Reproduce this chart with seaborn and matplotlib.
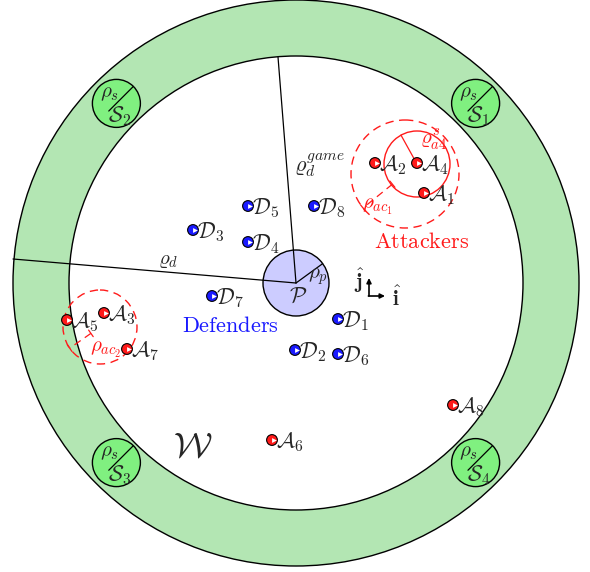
import numpy as np
import pandas as pd
import matplotlib
matplotlib.use("Agg")
import matplotlib.pyplot as plt
import matplotlib.transforms as mtransforms
from matplotlib.patches import Circle
import seaborn as sns

# ---------------------------------------------------------------------------
# Data (pixel-like coordinates of the arena, y grows downwards)
center = (296, 283)
outer_r = 283
inner_r = 227
p_r = 33
safe_r = 24
safe_ring_r = 254
safe_angles = [45, 135, 225, 315]
safe_labels = ["1", "2", "3", "4"]

attacker_ids = ["1", "2", "3", "4", "5", "6", "7", "8"]
attacker_x = [424, 375, 104, 417, 67, 272, 127, 453]
attacker_y = [193, 163, 313, 163, 320, 440, 349, 405]

defender_ids = ["1", "2", "3", "4", "5", "6", "7", "8"]
defender_x = [338, 295, 193, 248, 248, 338, 212, 314]
defender_y = [319, 350, 230, 242, 206, 354, 296, 206]

cluster_centers = [(405, 174), (100, 327)]
cluster_radii = [54, 37]
cluster_angles = [219, 215]

sense_center = (417, 164)
sense_r = 33

RED = "#ff1a1a"
BLUE = "#1a1aff"

# ---------------------------------------------------------------------------
sns.set_style("white")
plt.rcParams["mathtext.fontset"] = "cm"
plt.rcParams["font.family"] = ["DejaVu Serif"]

fig = plt.figure(figsize=(5.9, 5.72), dpi=100)
ax = fig.add_axes([0, 0, 1, 1])
ax.set_xlim(0, 590)
ax.set_ylim(572, 0)
ax.set_aspect("equal")
ax.axis("off")

cx, cy = center
# arena ring
ax.add_patch(Circle(center, outer_r, facecolor="#b3e6b3", edgecolor="black", lw=1.0, zorder=1))
ax.add_patch(Circle(center, inner_r, facecolor="white", edgecolor="black", lw=1.0, zorder=2))

# safe zones
for ang, lab in zip(safe_angles, safe_labels):
    a = np.deg2rad(ang)
    sx = cx + safe_ring_r * np.cos(a)
    sy = cy - safe_ring_r * np.sin(a)
    ax.add_patch(Circle((sx, sy), safe_r, facecolor="#80f080", edgecolor="black", lw=1.0, zorder=3))
    b = np.deg2rad(45)
    ax.plot([sx - 0.45 * safe_r * np.cos(b), sx + safe_r * np.cos(b)],
            [sy + 0.45 * safe_r * np.sin(b), sy - safe_r * np.sin(b)],
            color="black", lw=0.9, zorder=4)
    ax.text(sx - 7, sy - 10, r"$\rho_s$", fontsize=15, ha="center", va="center", zorder=5)
    ax.text(sx + 3, sy + 13, r"$\mathcal{S}_%s$" % lab, fontsize=16, ha="center", va="center", zorder=5)

# protected area
ax.add_patch(Circle(center, p_r, facecolor="#ccccff", edgecolor="black", lw=1.0, zorder=3))
ax.plot([cx, 13], [cy, 259], color="black", lw=0.9, zorder=4)
ax.plot([cx, 278], [cy, 57], color="black", lw=0.9, zorder=4)
ax.plot([cx, cx + p_r * np.cos(np.deg2rad(36))], [cy, cy - p_r * np.sin(np.deg2rad(36))],
        color="black", lw=0.9, zorder=4)
ax.text(168, 261, r"$\varrho_d$", fontsize=15, ha="center", va="center")
ax.text(319, 165, r"$\varrho_d^{game}$", fontsize=16, ha="center", va="center")
ax.text(318, 277, r"$\rho_p$", fontsize=15, ha="center", va="center", zorder=5)
ax.text(298, 297, r"$\mathcal{P}$", fontsize=16, ha="center", va="center", zorder=5)
ax.text(193, 447, r"$\mathcal{W}$", fontsize=26, ha="center", va="center")

# clusters
for (ccx, ccy), r, ang in zip(cluster_centers, cluster_radii, cluster_angles):
    ax.add_patch(Circle((ccx, ccy), r, facecolor="none", edgecolor=RED, lw=1.0,
                        ls=(0, (6, 4)), zorder=4))
    a = np.deg2rad(ang)
    ux, uy = np.cos(a), -np.sin(a)
    px, py = -uy, ux
    s0, s1 = 0.3 * r, r
    ax.plot([ccx + s0 * ux, ccx + s1 * ux], [ccy + s0 * uy, ccy + s1 * uy],
            color=RED, lw=0.9, ls=(0, (6, 4)), zorder=4)
    for s in (s0, s1):
        ax.plot([ccx + s * ux - 4 * px, ccx + s * ux + 4 * px],
                [ccy + s * uy - 4 * py, ccy + s * uy + 4 * py], color=RED, lw=0.9, zorder=4)
ax.text(378, 207, r"$\rho_{ac_1}$", fontsize=15, color=RED, ha="center", va="center")
ax.text(106, 350, r"$\rho_{ac_2}$", fontsize=15, color=RED, ha="center", va="center")

# sensing radius of A4
ax.add_patch(Circle(sense_center, sense_r, facecolor="none", edgecolor=RED, lw=1.0, zorder=4))
a = np.deg2rad(119)
ax.plot([sense_center[0], sense_center[0] + sense_r * np.cos(a)],
        [sense_center[1], sense_center[1] - sense_r * np.sin(a)], color=RED, lw=0.9, zorder=4)
ax.text(434, 140, r"$\varrho_{a4}^s$", fontsize=15, color=RED, ha="center", va="center")

ax.text(422, 242, r"$\mathrm{Attackers}$", fontsize=16, color=RED, ha="center", va="center")
ax.text(230, 326, r"$\mathrm{Defenders}$", fontsize=16, color=BLUE, ha="center", va="center")

# agents
agents = pd.DataFrame({
    "x": attacker_x + defender_x,
    "y": attacker_y + defender_y,
    "team": ["A"] * len(attacker_x) + ["D"] * len(defender_x),
    "id": attacker_ids + defender_ids,
})
sns.scatterplot(data=agents, x="x", y="y", hue="team", palette={"A": RED, "D": BLUE},
                s=60, edgecolor="black", linewidth=0.8, legend=False, ax=ax, zorder=6)
tri = mtransforms.offset_copy(ax.transData, fig=fig, x=1.3, y=0, units="points")
ax.scatter(agents["x"], agents["y"], marker=">", s=12, color="white", lw=0, zorder=7, transform=tri)
for _, row in agents.iterrows():
    sym = r"\mathcal{A}" if row["team"] == "A" else r"\mathcal{D}"
    ax.text(row["x"] + 4, row["y"] + 2, r"$%s_%s$" % (sym, row["id"]), fontsize=16,
            ha="left", va="center", zorder=7)

# body frame
ax.annotate("", xy=(369, 278), xytext=(369, 296),
            arrowprops=dict(arrowstyle="-|>", color="black", lw=1.2, mutation_scale=7, shrinkA=0, shrinkB=0))
ax.annotate("", xy=(385, 296), xytext=(368.4, 296),
            arrowprops=dict(arrowstyle="-|>", color="black", lw=1.2, mutation_scale=7, shrinkA=0, shrinkB=0))
ax.text(359, 281, r"$\hat{\mathbf{j}}$", fontsize=15, ha="center", va="center")
ax.text(396, 298, r"$\hat{\mathbf{i}}$", fontsize=15, ha="center", va="center")

fig.savefig("out.png", dpi=100)
